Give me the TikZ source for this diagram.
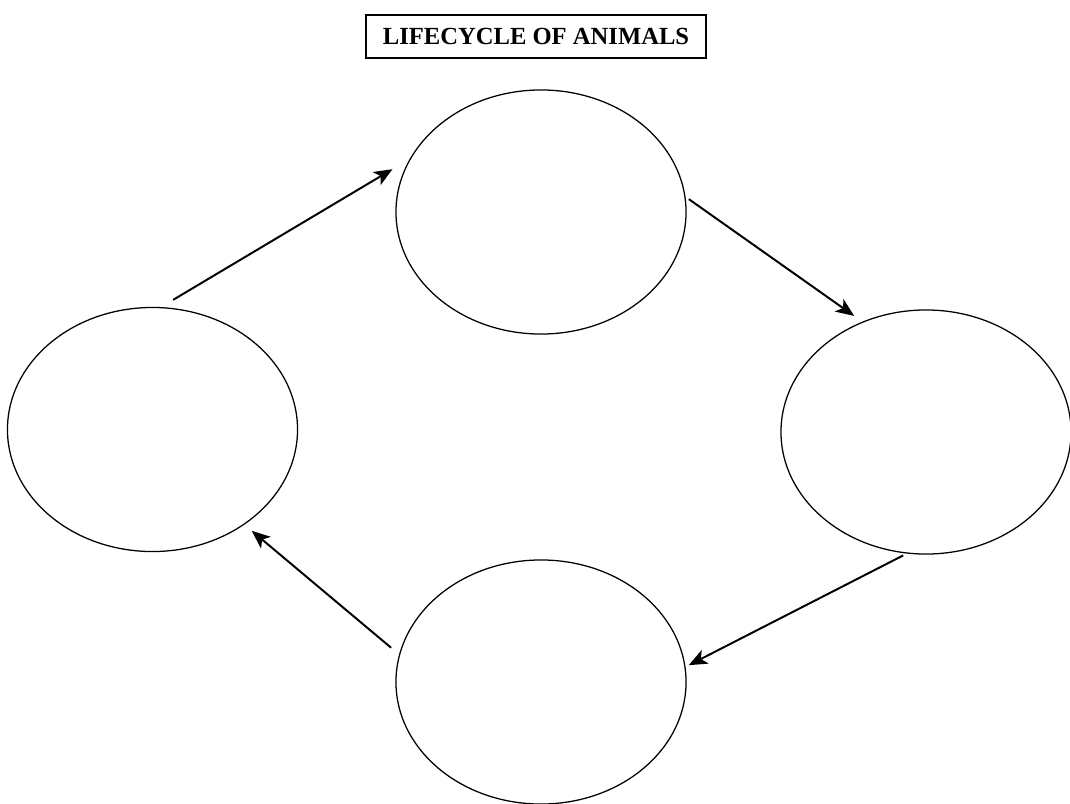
\documentclass[tikz,border=0pt]{standalone}
\usepackage{fontspec}
\setmainfont{Liberation Serif}
\usepackage{tikz}
\usetikzlibrary{arrows.meta, shapes.geometric}
\tikzset{
  stage/.style    = {ellipse, draw=black, line width=0.9pt, inner sep=0pt,
                     minimum width=7.25cm, minimum height=6.1cm},
  cycarrow/.style = {-{Stealth[length=4.6mm, width=3.8mm, inset=1.2mm]}, line width=1.4pt},
  titlebox/.style = {draw=black, line width=1pt, minimum width=8.5cm,
                     minimum height=1.075cm, font=\fontsize{17.5}{20}\selectfont\bfseries},
}

\begin{document}
\begin{tikzpicture}[x=0.025cm, y=-0.025cm]
  \useasboundingbox (0,0) rectangle (1070,803);
  \node[titlebox] (title) at (536,36.5) {LIFECYCLE OF ANIMALS};
  % the four stages
  \node[stage] (stT) at (541,212) {};
  \node[stage] (stR) at (926,432) {};
  \node[stage] (stB) at (541,682) {};
  \node[stage] (stL) at (152.5,429.5) {};
  % arrows round the cycle
  \draw[cycarrow, shorten <=0.35cm, shorten >=0.5cm] (stL.86) -- (stT.158);
  \draw[cycarrow, shorten <=0.1cm, shorten >=0.25cm] (stT.6) -- (stR.120);
  \draw[cycarrow, shorten <=0.1cm, shorten >=0.09cm] (stR.261) -- (stB.6);
  \draw[cycarrow, shorten <=0.26cm, shorten >=0.24cm] (stB.169) -- (stL.-46);
\end{tikzpicture}
\end{document}
